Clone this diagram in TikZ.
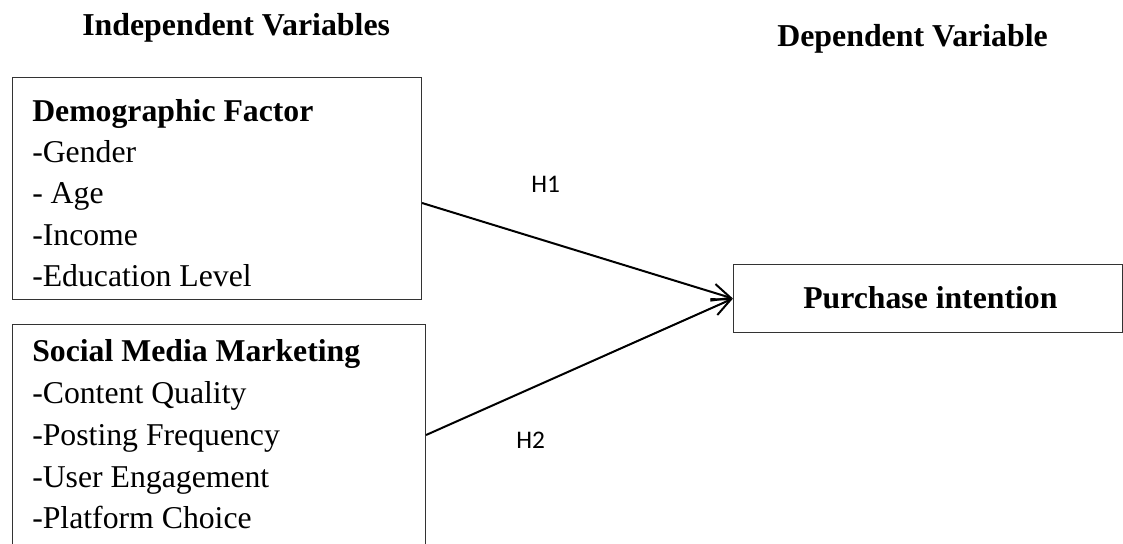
\documentclass[tikz,border=0pt]{standalone}
\usepackage{fontspec}
\setmainfont{Liberation Serif}
\newfontfamily\hypfont{Carlito}
\usetikzlibrary{arrows.meta}
\begin{document}
\begin{tikzpicture}[x=0.75pt,y=-0.75pt,
  hdr/.style={anchor=base west, inner sep=0pt, font=\bfseries\fontsize{23.9}{29}\selectfont},
  itemline/.style={anchor=base west, inner sep=0pt, font=\fontsize{23.8}{28}\selectfont},
  boxtitle/.style={anchor=base west, inner sep=0pt, font=\bfseries\fontsize{23.8}{28}\selectfont},
  varbox/.style={draw=black!80, line width=0.8pt, anchor=north west, inner sep=0pt},
  hyp/.style={anchor=base west, inner sep=0pt, font=\hypfont\fontsize{19}{22}\selectfont},
  link/.style={line width=1.5pt, -{Straight Barb[length=14pt,width=13pt,line width=1.5pt]}}]
\fill[white] (0,0) rectangle (1123,543);
\clip (0,0) rectangle (1123,543);
% headers
\node[hdr] (tind) at (82,35) {Independent Variables};
\node[hdr] (tdep) at (777,46) {Dependent Variable};
% boxes
\node[varbox, minimum width=306.75pt, minimum height=166.5pt] (demo) at (12,77) {};
\node[varbox, minimum width=309.75pt, minimum height=200pt] (smm) at (12,324) {};
\node[varbox, minimum width=291.4pt, minimum height=51pt] (pur) at (733,264) {};
% box 1 text
\node[boxtitle] (d0) at (32,121) {Demographic Factor};
\node[itemline] (d1) at (32,162) {-Gender};
\node[itemline] (d2) at (32,203) {- Age};
\node[itemline] (d3) at (32,245) {-Income};
\node[itemline] (d4) at (32,286) {-Education Level};
% box 2 text
\node[boxtitle] (s0) at (32,361) {Social Media Marketing};
\node[itemline] (s1) at (32,403) {-Content Quality};
\node[itemline] (s2) at (32,445) {-Posting Frequency};
\node[itemline] (s3) at (32,487) {-User Engagement};
\node[itemline] (s4) at (32,528) {-Platform Choice};
% box 3 text
\node[anchor=base west, inner sep=0pt, font=\bfseries\fontsize{23.8}{28}\selectfont] (pi) at (803,308) {Purchase intention};
% hypotheses
\node[hyp] (h1) at (531,192) {H1};
\node[hyp] (h2) at (516,448) {H2};
% connectors
\coordinate (a1) at (demo.north east |- 0,203);
\coordinate (a2) at (smm.north east |- 0,435);
\draw[link] (a1) -- (pur.west);
\draw[link] (a2) -- (pur.west);
\end{tikzpicture}
\end{document}
